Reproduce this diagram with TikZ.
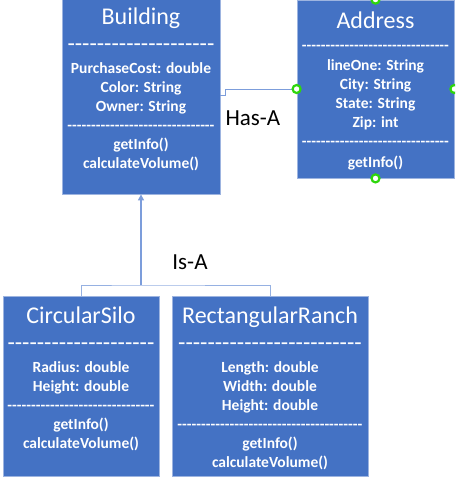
\documentclass[tikz,border=0pt]{standalone}
\usepackage{fontspec}
\setmainfont{Carlito}
\usetikzlibrary{arrows.meta}

\definecolor{boxblue}{HTML}{4472C4}
\definecolor{edgeblue}{HTML}{9DB4E0}
\definecolor{linkblue}{HTML}{7C9DDB}
\definecolor{handlegreen}{HTML}{2ED60C}

\newcommand{\titlefont}{\fontsize{24}{28}\selectfont\mdseries}
\newcommand{\bodyfont}{\fontsize{15.5}{19}\selectfont\bfseries}
\newcommand{\dashrow}[1]{\foreach \k in {1,...,#1}{-}}

\begin{document}
\begin{tikzpicture}[x=1pt, y=-1pt,
    classbox/.style = {draw = edgeblue, fill = boxblue, line width = 0.8pt, inner sep = 0pt},
    classtext/.style = {text = white, align = center, anchor = base, inner sep = 0pt, font = \bodyfont},
    handle/.style = {circle, draw = handlegreen, fill = white, line width = 2.2pt,
        inner sep = 0pt, minimum size = 8pt},
    linklabel/.style = {text = black, font = \fontsize{23}{27}\selectfont, anchor = base, inner sep = 0pt}
]
    \clip (0,0) rectangle (455,479);

    % class boxes
    \draw (141,95.5) node(B) [classbox, minimum width = 158, minimum height = 197] {};
    \draw (375.5,89) node(A) [classbox, minimum width = 157, minimum height = 178] {};
    \draw (81,386) node(S) [classbox, minimum width = 156, minimum height = 180] {};
    \draw (270,386) node(R) [classbox, minimum width = 196, minimum height = 180] {};

    % class contents (placed by the baseline of their last line)
    \draw (141,168) node(Bt) [classtext]
    {{\titlefont Building}\\[8pt]
    {\titlefont\dashrow{20}}\\[3pt]
    PurchaseCost: double\\ Color: String\\ Owner: String\\
    \dashrow{31}\\
    getInfo()\\ calculateVolume()};
    \draw (375.5,167.5) node(At) [classtext]
    {{\titlefont Address}\\[3pt]
    \dashrow{31}\\[1pt]
    lineOne: String\\ City: String\\ State: String\\ Zip: int\\
    \dashrow{31}\\[2pt]
    getInfo()};
    \draw (81,448) node(St) [classtext]
    {{\titlefont CircularSilo}\\[8pt]
    {\titlefont\dashrow{20}}\\[3pt]
    Radius: double\\ Height: double\\
    \dashrow{31}\\
    getInfo()\\ calculateVolume()};
    \draw (270,467) node(Rt) [classtext]
    {{\titlefont RectangularRanch}\\[8pt]
    {\titlefont\dashrow{25}}\\[3pt]
    Length: double\\ Width: double\\ Height: double\\
    \dashrow{39}\\
    getInfo()\\ calculateVolume()};

    % Has-A
    \draw [linkblue, line width = 0.9pt] (B.east) -- ++(5,0) |- (A.west)
        node [linklabel, pos = 0.7, yshift = -36pt, xshift = -1pt] {Has-A};
    \node(hW) [handle] at (A.west) {};
    \node(hE) [handle] at (A.east) {};
    \node(hN) [handle] at (A.north) {};
    \node(hS) [handle] at (A.south) {};

    % Is-A
    \coordinate (J) at (141,285);
    \draw [linkblue!80, line width = 0.9pt] (S.north) |- (J) -| (R.north);
    \draw [linkblue, line width = 1.3pt, -{Triangle[length = 6pt, width = 6pt]}] (J) -- (B.south)
        node [linklabel, pos = 0.176, xshift = 49pt] {Is-A};
\end{tikzpicture}
\end{document}
